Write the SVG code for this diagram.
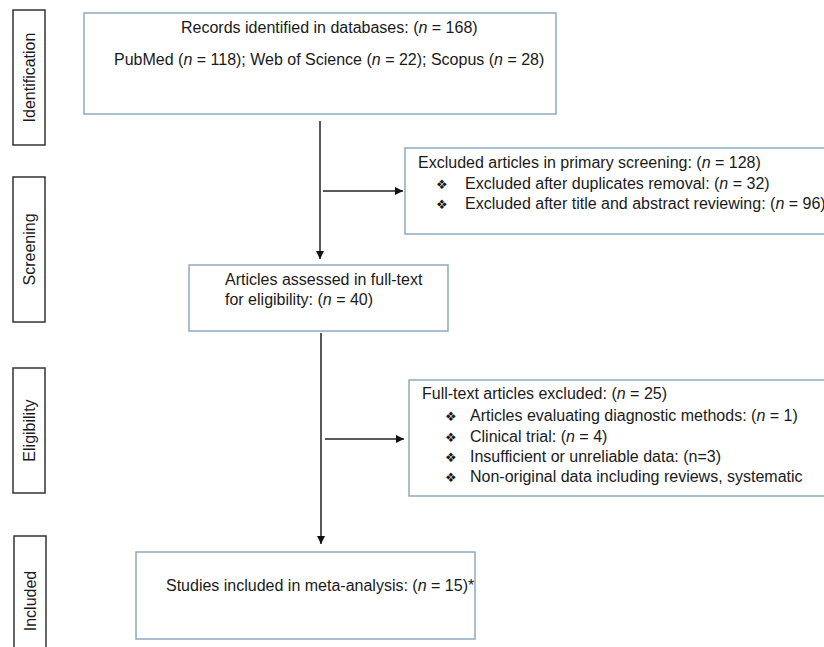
<svg xmlns="http://www.w3.org/2000/svg" width="824" height="647" viewBox="0 0 824 647">
<style>
text{font-family:"Liberation Sans",Arial,sans-serif;font-size:16px;fill:#1a1a1a}
.box{fill:#fff;stroke:#8ea9c4;stroke-width:1.5}
.side{fill:#fff;stroke:#333;stroke-width:1.5}
.ln{stroke:#222;stroke-width:1.5;fill:none}
.b{font-family:"DejaVu Sans",sans-serif;font-size:13px}
.lab{text-anchor:middle}
</style>
<defs>
<marker id="ah" viewBox="0 0 10 10" refX="10" refY="5" markerWidth="8" markerHeight="8" markerUnits="userSpaceOnUse" orient="auto">
<path d="M0,0 L10,5 L0,10 z" fill="#111"/>
</marker>
</defs>
<rect width="824" height="647" fill="#fff"/>
<g id="stage-identification"><rect class="side" x="13" y="10" width="32" height="135"/><text class="lab" transform="translate(35,77.5) rotate(-90)">Identification</text></g>
<g id="stage-screening"><rect class="side" x="13" y="177" width="32" height="145"/><text class="lab" transform="translate(35,249.5) rotate(-90)">Screening</text></g>
<g id="stage-eligibility"><rect class="side" x="13" y="368" width="32" height="125"/><text class="lab" transform="translate(35,430.5) rotate(-90)">Eligibility</text></g>
<g id="stage-included"><rect class="side" x="14" y="536" width="32" height="130"/><text class="lab" transform="translate(36,601) rotate(-90)">Included</text></g>

<g id="connectors">
<line class="ln" x1="320" y1="121" x2="320" y2="259" marker-end="url(#ah)"/>
<line class="ln" x1="323" y1="191" x2="403" y2="191" marker-end="url(#ah)"/>
<line class="ln" x1="321" y1="333" x2="321" y2="544" marker-end="url(#ah)"/>
<line class="ln" x1="325" y1="439" x2="404" y2="439" marker-end="url(#ah)"/>
</g>

<g id="records"><rect class="box" x="84" y="13" width="472" height="101"/>
<text x="181" y="33">Records identified in databases: (<tspan font-style="italic">n</tspan> = 168)</text>
<text x="114" y="65">PubMed (<tspan font-style="italic">n</tspan> = 118); Web of Science (<tspan font-style="italic">n</tspan> = 22); Scopus (<tspan font-style="italic">n</tspan> = 28)</text>
</g>
<g id="excluded-primary"><rect class="box" x="405" y="148" width="430" height="86"/>
<text x="418" y="168">Excluded articles in primary screening: (<tspan font-style="italic">n</tspan> = 128)</text>
<text class="b" x="436" y="189">❖</text><text x="465" y="189">Excluded after duplicates removal: (<tspan font-style="italic">n</tspan> = 32)</text>
<text class="b" x="436" y="209">❖</text><text x="465" y="209">Excluded after title and abstract reviewing: (<tspan font-style="italic">n</tspan> = 96)</text>
</g>
<g id="fulltext"><rect class="box" x="189" y="265" width="259" height="66"/>
<text x="225" y="285">Articles assessed in full-text</text>
<text x="225" y="305">for eligibility: (<tspan font-style="italic">n</tspan> = 40)</text>
</g>
<g id="excluded-fulltext"><rect class="box" x="409" y="380" width="430" height="116"/>
<text x="422" y="399">Full-text articles excluded: (<tspan font-style="italic">n</tspan> = 25)</text>
<text class="b" x="445" y="421">❖</text><text x="470" y="421">Articles evaluating diagnostic methods: (<tspan font-style="italic">n</tspan> = 1)</text>
<text class="b" x="445" y="442">❖</text><text x="470" y="442">Clinical trial: (<tspan font-style="italic">n</tspan> = 4)</text>
<text class="b" x="445" y="462">❖</text><text x="470" y="462">Insufficient or unreliable data: (n=3)</text>
<text class="b" x="445" y="482">❖</text><text x="470" y="482">Non-original data including reviews, systematic</text>
</g>
<g id="included"><rect class="box" x="136" y="552" width="339" height="87"/>
<text x="166" y="591">Studies included in meta-analysis: (<tspan font-style="italic">n</tspan> = 15)*</text>
</g>
</svg>
